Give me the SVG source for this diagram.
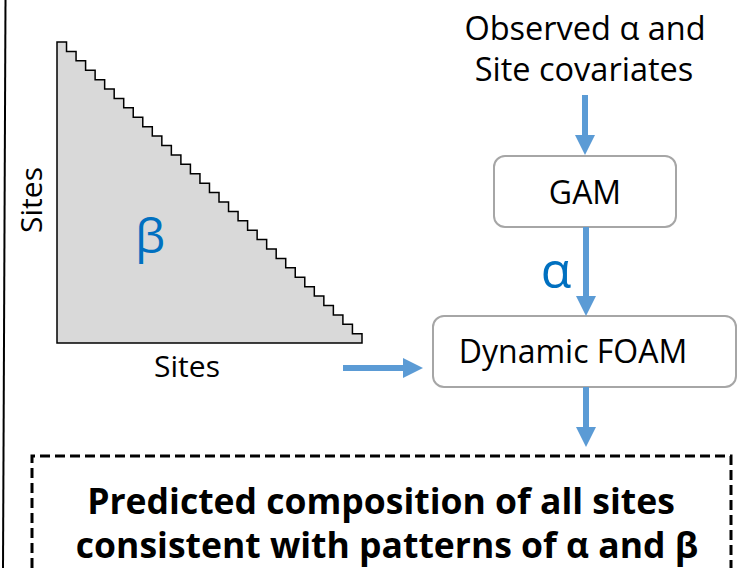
<svg xmlns="http://www.w3.org/2000/svg" width="737" height="568" viewBox="0 0 737 568">
<style>
.t{font-family:"Open Sans","Noto Sans","Liberation Sans",sans-serif;fill:#000}
.g{font-family:"Open Sans","Noto Sans","Liberation Sans",sans-serif;fill:#0070c0}
.box{fill:#fff;stroke:#a6a6a6;stroke-width:2}
.arr{stroke:#5b9bd5;stroke-width:6;fill:none}
</style>
<defs>
<marker id="ah" markerUnits="userSpaceOnUse" viewBox="0 0 20 20" refX="2" refY="10" markerWidth="20" markerHeight="20" orient="auto">
<path d="M0,0 L20,10 L0,20 z" fill="#5b9bd5"/>
</marker>
</defs>
<line x1="5.5" y1="0" x2="3" y2="568" stroke="#000" stroke-width="2"/>
<g id="matrix">
<path d="M57,343 V42
h9.53 v9.41 h9.53 v9.41 h9.53 v9.41 h9.53 v9.41 h9.53 v9.41
h9.53 v9.41 h9.53 v9.41 h9.53 v9.41 h9.53 v9.41 h9.53 v9.41
h9.53 v9.41 h9.53 v9.41 h9.53 v9.41 h9.53 v9.41 h9.53 v9.41
h9.53 v9.41 h9.53 v9.41 h9.53 v9.41 h9.53 v9.41 h9.53 v9.41
h9.53 v9.41 h9.53 v9.41 h9.53 v9.41 h9.53 v9.41 h9.53 v9.41
h9.53 v9.41 h9.53 v9.41 h9.53 v9.41 h9.53 v9.41 h9.53 v9.41
h9.53 v9.41
H362 V343 Z" fill="#d9d9d9" stroke="#000" stroke-width="1.5" stroke-linejoin="miter"/>
<text class="g" x="150" y="253" font-size="48" text-anchor="middle">β</text>
<text class="t" x="187" y="377" font-size="30" text-anchor="middle">Sites</text>
<text class="t" transform="translate(42,200) rotate(-90)" font-size="30" text-anchor="middle">Sites</text>
</g>
<g id="input">
<text class="t" x="585" y="40" font-size="32.5" text-anchor="middle">Observed α and</text>
<text class="t" x="584" y="81" font-size="32.5" text-anchor="middle">Site covariates</text>
</g>
<g id="gam">
<rect class="box" x="494" y="156" width="182" height="71" rx="11"/>
<text class="t" x="585" y="204" font-size="32" text-anchor="middle">GAM</text>
</g>
<g id="foam">
<rect class="box" x="433" y="316" width="303" height="71" rx="11"/>
<text class="t" x="573" y="363" font-size="32" text-anchor="middle">Dynamic FOAM</text>
</g>
<g id="output">
<path d="M32,568 V456 H731 V568" fill="none" stroke="#000" stroke-width="3" stroke-dasharray="10,5"/>
<text class="t" x="381" y="514" font-size="35.5" font-weight="bold" text-anchor="middle">Predicted composition of all sites</text>
<text class="t" x="387" y="558" font-size="35.5" font-weight="bold" text-anchor="middle">consistent with patterns of α and β</text>
</g>
<g id="connectors">
<line class="arr" x1="585" y1="95" x2="585" y2="137" marker-end="url(#ah)"/>
<line class="arr" x1="586" y1="227" x2="586" y2="298" marker-end="url(#ah)"/>
<line class="arr" x1="586" y1="387" x2="586" y2="429" marker-end="url(#ah)"/>
<line class="arr" x1="343" y1="368" x2="405" y2="368" marker-end="url(#ah)"/>
<text class="g" x="556" y="288" font-size="50" text-anchor="middle">α</text>
</g>
</svg>
